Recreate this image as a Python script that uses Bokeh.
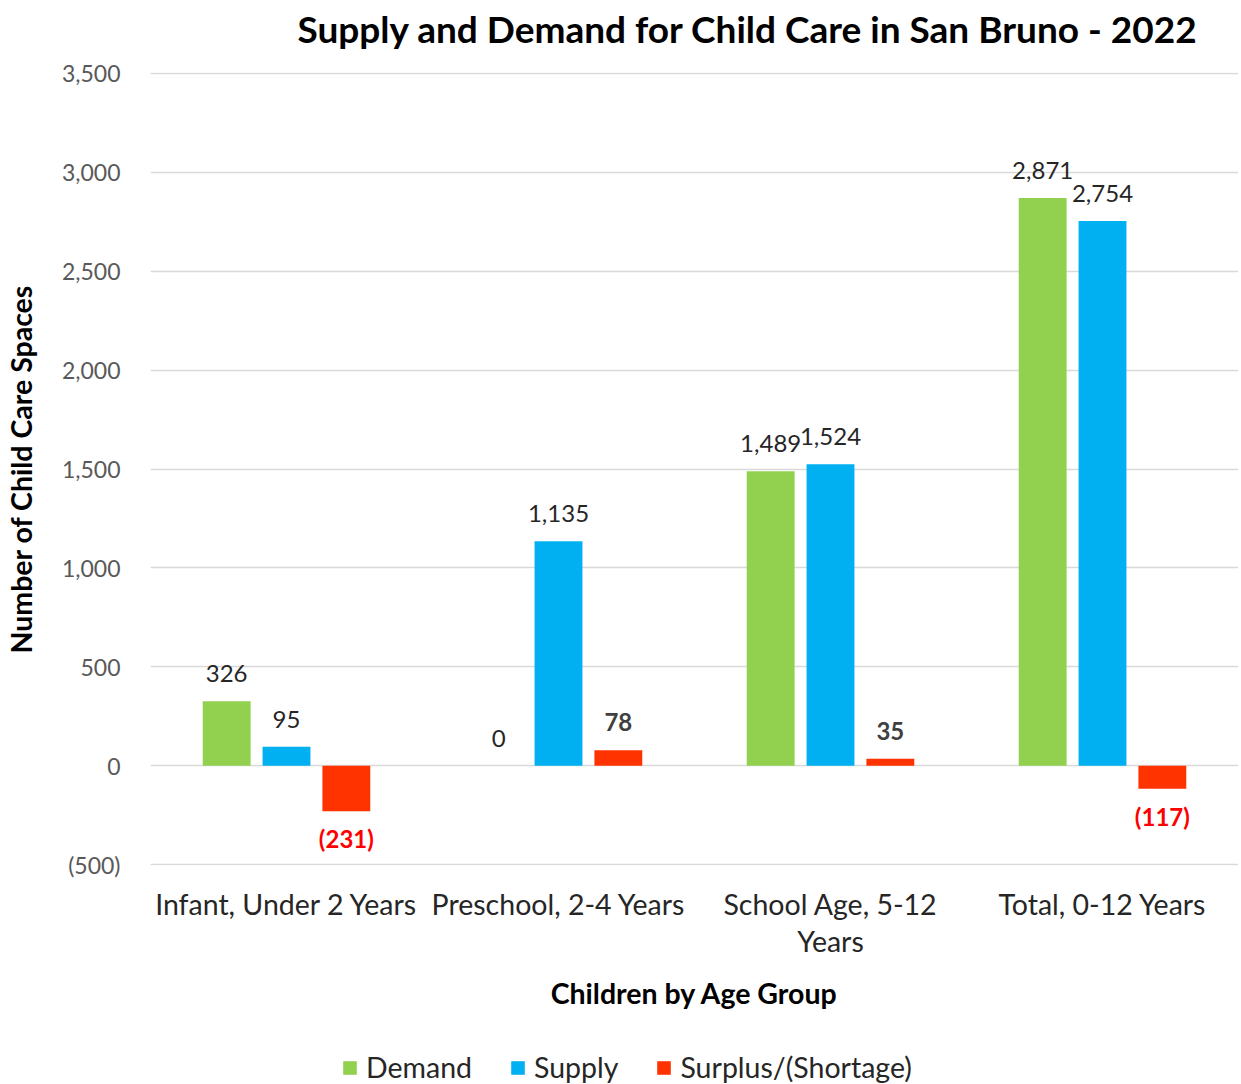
from bokeh.plotting import figure
from bokeh.layouts import column
from bokeh.models import (ColumnDataSource, FactorRange, NumeralTickFormatter, Legend, LegendItem, Label)
from bokeh.transform import dodge
from bokeh.core.properties import value
from bokeh.embed import file_html
from bokeh.resources import INLINE

categories = ["Infant, Under 2 Years", "Preschool, 2-4 Years", "School Age, 5-12\nYears", "Total, 0-12 Years"]
demand = [326, 0, 1489, 2871]
supply = [95, 1135, 1524, 2754]
surplus = [-231, 78, 35, -117]
y_ticks = [-500, 0, 500, 1000, 1500, 2000, 2500, 3000, 3500]
series_names = ["Demand", "Supply", "Surplus/(Shortage)"]
series_colors = ["#92D050", "#00B0F0", "#FF3300"]
title_text = "Supply and Demand for Child Care in San Bruno - 2022"

FONT = "Lato"
LEFT = 150      # frame left edge (px)
FRAME_W = 1088  # frame width (px)
RIGHT = LEFT + FRAME_W

def fmt(v):
    return f"({abs(v):,})" if v < 0 else f"{v:,}"

src = ColumnDataSource(dict(cat=categories, demand=demand, supply=supply, surplus=surplus,
                            demand_t=[fmt(v) for v in demand], supply_t=[fmt(v) for v in supply]))
pos = [i for i, v in enumerate(surplus) if v >= 0]
neg = [i for i, v in enumerate(surplus) if v < 0]
src_pos = ColumnDataSource(dict(cat=[categories[i] for i in pos], v=[surplus[i] for i in pos],
                                t=[fmt(surplus[i]) for i in pos]))
src_neg = ColumnDataSource(dict(cat=[categories[i] for i in neg], v=[surplus[i] for i in neg],
                                t=[fmt(surplus[i]) for i in neg]))

def bare(height):
    # strip whose frame is aligned with the main chart's frame; data units = page pixels
    f = figure(frame_width=FRAME_W, frame_height=height, x_range=(LEFT, RIGHT), y_range=(0, height),
               output_backend="svg", toolbar_location=None, x_axis_type=None, y_axis_type=None,
               min_border_left=LEFT, min_border_right=0, min_border_top=0, min_border_bottom=0)
    f.outline_line_color = None
    f.xgrid.grid_line_color = None
    f.ygrid.grid_line_color = None
    return f

# ---- title strip ----
TOP_H = 52
top = bare(TOP_H)
top.add_layout(Label(x=297, y=TOP_H - 28, text=title_text, text_font=FONT, text_font_size="37px",
                     text_font_style="bold", text_color="black", text_align="left",
                     text_baseline="middle"))

# ---- main chart ----
Y0, Y1 = -505, 3505
p = figure(frame_width=FRAME_W, frame_height=793, x_range=FactorRange(*categories), y_range=(Y0, Y1),
           output_backend="svg", toolbar_location=None,
           min_border_left=LEFT, min_border_right=0, min_border_top=20, min_border_bottom=179)
p.outline_line_color = None

W = 0.176
OFF = 0.22
p.vbar(x=dodge("cat", -OFF, range=p.x_range), top="demand", bottom=0, width=W, source=src,
       fill_color=series_colors[0], line_color=None)
p.vbar(x=dodge("cat", 0, range=p.x_range), top="supply", bottom=0, width=W, source=src,
       fill_color=series_colors[1], line_color=None)
p.vbar(x=dodge("cat", OFF, range=p.x_range), top="surplus", bottom=0, width=W, source=src,
       fill_color=series_colors[2], line_color=None)

lbl = dict(text_font=value(FONT), text_font_size="24px", text_align="center")
p.text(x=dodge("cat", -OFF, range=p.x_range), y="demand", text="demand_t", source=src,
       text_baseline="bottom", y_offset=-19, text_color="#262626", **lbl)
p.text(x=dodge("cat", 0, range=p.x_range), y="supply", text="supply_t", source=src,
       text_baseline="bottom", y_offset=-19, text_color="#262626", **lbl)
p.text(x=dodge("cat", OFF, range=p.x_range), y="v", text="t", source=src_pos,
       text_baseline="bottom", y_offset=-19, text_color="#404040", text_font_style="bold", **lbl)
p.text(x=dodge("cat", OFF, range=p.x_range), y="v", text="t", source=src_neg,
       text_baseline="top", y_offset=13, text_color="#FF0000", text_font_style="bold", **lbl)

p.yaxis.ticker = y_ticks
p.yaxis.formatter = NumeralTickFormatter(format="(0,0)")
p.yaxis.axis_line_color = None
p.yaxis.major_tick_line_color = None
p.yaxis.minor_tick_line_color = None
p.yaxis.major_label_text_font = FONT
p.yaxis.major_label_text_font_size = "23px"
p.yaxis.major_label_text_color = "#595959"
p.yaxis.major_label_standoff = 24
p.yaxis.axis_label = "Number of Child Care Spaces"
p.yaxis.axis_label_text_font = FONT
p.yaxis.axis_label_text_font_size = "28.5px"
p.yaxis.axis_label_text_font_style = "bold"
p.yaxis.axis_label_text_color = "black"
p.yaxis.axis_label_standoff = 21

p.xaxis.axis_line_color = None
p.xaxis.major_tick_line_color = None
p.xaxis.minor_tick_line_color = None
p.xaxis.major_label_text_font = FONT
p.xaxis.major_label_text_font_size = "28.5px"
p.xaxis.major_label_text_color = "#262626"
p.xaxis.major_label_text_line_height = 1.1
p.xaxis.major_label_standoff = 15
p.xaxis.axis_label = "Children by Age Group"
p.xaxis.axis_label_text_font = FONT
p.xaxis.axis_label_text_font_size = "28.5px"
p.xaxis.axis_label_text_font_style = "bold"
p.xaxis.axis_label_text_color = "black"
p.xaxis.axis_label_standoff = 15

p.xgrid.grid_line_color = None
p.ygrid.grid_line_color = "#D9D9D9"
p.ygrid.grid_line_width = 1.5

# ---- legend strip ----
LEG_H = 40
bot = bare(LEG_H)
items = []
for name, color in zip(series_names, series_colors):
    # zero-height placeholder bar, only used to give the legend its swatch
    ph = ColumnDataSource(dict(x=[LEFT], top=[0]))
    r = bot.vbar(x="x", top="top", bottom=0, width=1, source=ph, fill_color=color, line_color=None)
    items.append(LegendItem(label=name, renderers=[r]))
legend = Legend(items=items, orientation="horizontal", location=(191, 0),
                label_text_font=FONT, label_text_font_size="28.5px", label_text_color="#262626",
                glyph_width=17, glyph_height=17, label_standoff=8, spacing=37,
                border_line_color=None, background_fill_alpha=0, padding=0, margin=0)
bot.add_layout(legend, "center")

layout = column(top, p, bot, spacing=0)
open("out.html", "w").write(file_html(layout, INLINE))
